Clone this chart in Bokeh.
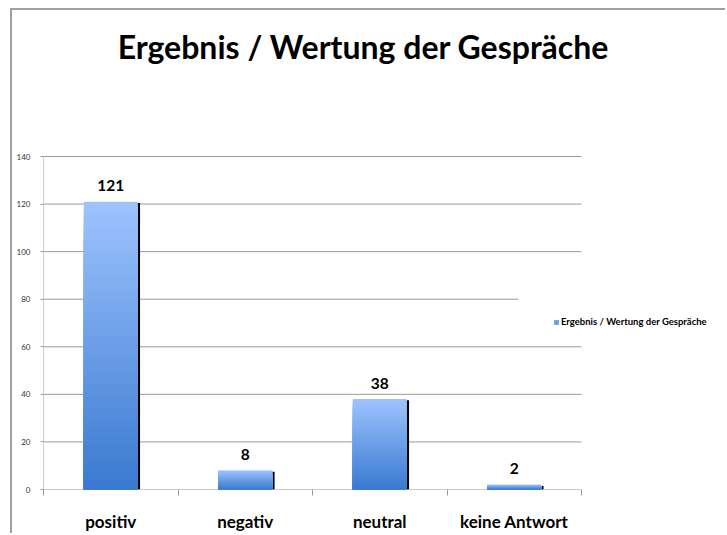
from bokeh.plotting import figure
from bokeh.models import FixedTicker, Range1d, Legend, LegendItem, BoxAnnotation
from bokeh.embed import file_html
from bokeh.resources import INLINE
from bokeh.core.properties import value

categories = ["positiv", "negativ", "neutral", "keine Antwort"]
counts = [121, 8, 38, 2]
y_ticks = [0, 20, 40, 60, 80, 100, 120, 140]
series_name = "Ergebnis / Wertung der Gespräche"
title_text = "Ergebnis / Wertung der Gespräche"

FONT = "Lato"
W, H = 715, 525
LEFT, BOTTOM = 31, 46           # canvas borders
PX_X = 538 / len(categories)    # pixels per category
PX_Y = 333 / max(y_ticks)       # pixels per unit
FRAME_W = W - LEFT
FRAME_H = H - BOTTOM
BAR_W = 0.4
TOP_RGB = (158, 196, 255)
BOT_RGB = (58, 122, 208)
GRID = "#9a9a9a"

p = figure(width=W, height=H, output_backend="svg", toolbar_location=None,
           x_range=Range1d(0, FRAME_W / PX_X), y_range=Range1d(0, FRAME_H / PX_Y),
           min_border_left=LEFT, min_border_right=0, min_border_top=0,
           min_border_bottom=BOTTOM)
p.styles = {"border-left": "2px solid #a0a0a0", "border-top": "2px solid #a0a0a0",
            "margin-left": "10px", "margin-top": "8px"}
p.outline_line_color = None
p.background_fill_color = "white"
p.border_fill_color = "white"
p.xgrid.visible = False
p.ygrid.visible = False

n = len(categories)

# gridlines (including the x axis line at 0) spanning only the category area
p.segment(x0=[0] * len(y_ticks), x1=[n] * len(y_ticks), y0=y_ticks, y1=y_ticks,
          line_color=GRID, line_width=1)
# y axis line
p.segment(x0=[0], x1=[0], y0=[0], y1=[max(y_ticks)], line_color=GRID, line_width=1)

# gradient bars: nested slices drawn from tallest to shortest
N = 60
xs, tops, cols = [], [], []
for i, v in enumerate(counts):
    for k in range(N - 1, -1, -1):
        f = (k + 0.5) / N
        rgb = tuple(int(BOT_RGB[j] + (TOP_RGB[j] - BOT_RGB[j]) * f) for j in range(3))
        xs.append(i + 0.5)
        tops.append(v * (k + 1) / N)
        cols.append("#%02x%02x%02x" % rgb)

# shadow on right edge
sx = [i + 0.5 + BAR_W / 2 + 1.2 / PX_X for i in range(n)]
p.segment(x0=sx, x1=sx, y0=[0] * n, y1=[c - 1.2 / PX_Y for c in counts],
          line_color="black", line_width=2.4)
p.vbar(x=xs, top=tops, bottom=0, width=BAR_W, fill_color=cols, line_color=None)

# value labels
p.text(x=[i + 0.5 for i in range(n)], y=counts, text=[str(c) for c in counts],
       text_align="center", text_baseline="middle", y_offset=-16,
       text_font=value(FONT), text_font_style="bold", text_font_size="15.5px",
       text_color="black")

# chart title (centred over the whole chart area)
p.text(x=[(351 - LEFT) / PX_X], y=[(FRAME_H - 36) / PX_Y], text=[title_text],
       text_align="center", text_baseline="middle",
       text_font=value(FONT), text_font_style="bold", text_font_size="32px",
       text_color="black")

# hide the gridline portion behind the legend
p.add_layout(BoxAnnotation(left=(518 - 43) / PX_X, right=n, bottom=70, top=90,
                           fill_color="white", fill_alpha=1, line_color=None))

# axes
ya = p.yaxis[0]
ya.ticker = FixedTicker(ticks=y_ticks)
ya.axis_line_color = None
ya.major_tick_line_color = GRID
ya.major_tick_out = 3
ya.major_tick_in = 0
ya.minor_tick_line_color = None
ya.major_label_text_font = FONT
ya.major_label_text_font_size = "8px"
ya.major_label_text_color = "#333333"
ya.major_label_standoff = 10

xa = p.xaxis[0]
xa.ticker = FixedTicker(ticks=[i + 0.5 for i in range(n)], minor_ticks=list(range(n + 1)))
xa.major_label_overrides = {i + 0.5: c for i, c in enumerate(categories)}
xa.axis_line_color = None
xa.major_tick_out = 0
xa.major_tick_in = 0
xa.minor_tick_line_color = GRID
xa.minor_tick_out = 6
xa.minor_tick_in = 0
xa.major_label_text_font = FONT
xa.major_label_text_font_size = "17px"
xa.major_label_text_font_style = "bold"
xa.major_label_text_color = "black"
xa.major_label_standoff = 15

# legend (swatch renderer placed outside the visible range)
dummy = p.vbar(x=[-5], top=[1], bottom=[0], width=BAR_W, fill_color="#6b9be6",
               line_color=None)
legend = Legend(items=[LegendItem(label=series_name, renderers=[dummy], index=0)],
                location=(510, 162), glyph_width=6, glyph_height=6, label_height=6,
                label_text_font=FONT, label_text_font_size="9.5px",
                label_text_font_style="bold", label_text_color="black",
                label_standoff=2, padding=8, margin=0,
                border_line_color=None, background_fill_color="white",
                background_fill_alpha=1)
p.add_layout(legend)

open("out.html", "w").write(file_html(p, INLINE))
